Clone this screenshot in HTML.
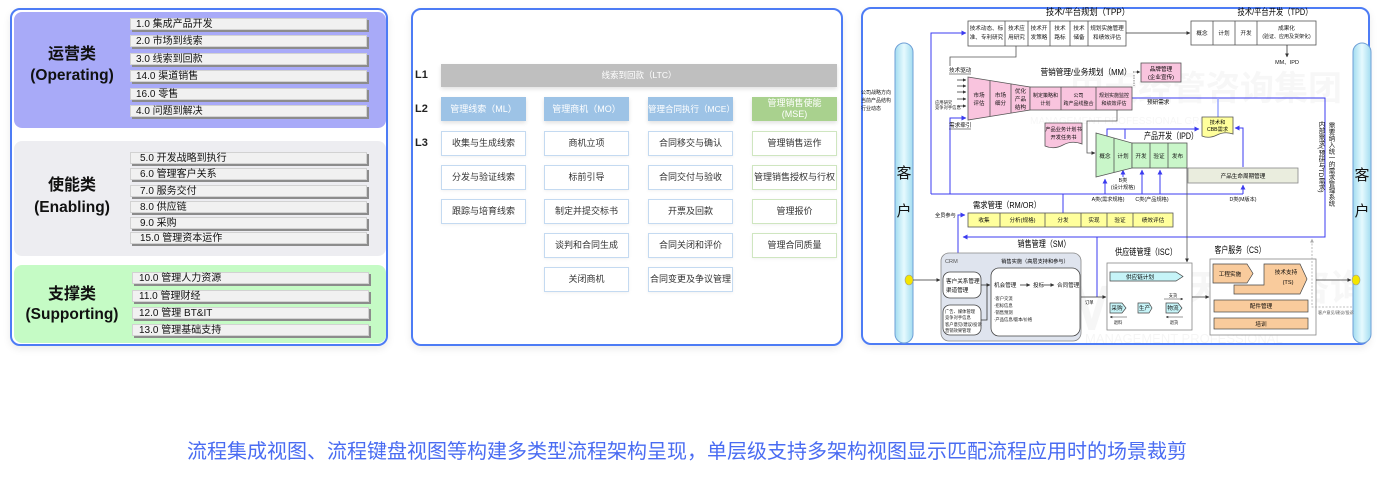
<!DOCTYPE html>
<html><head><meta charset="utf-8">
<style>
*{margin:0;padding:0;box-sizing:border-box}
body{width:1381px;height:489px;background:#fff;position:relative;overflow:hidden;font-family:"Liberation Sans","Noto Sans CJK SC",sans-serif;color:#111}
.abs{position:absolute}
.panel{position:absolute;border:2px solid #4d7cf5;border-radius:10px;background:#fff;box-shadow:0 3px 8px rgba(0,0,0,0.08)}
.sec{position:absolute;left:14px;width:372px;border-radius:8px}
.it{position:absolute;width:237px;height:12px;background:#f1f1f1;border:1px solid #d2d2d2;box-shadow:2px 2px 0 #8c8c8c;font-size:10px;line-height:11px;padding-left:5px;white-space:nowrap;color:#111}
.lab{position:absolute;left:14px;width:116px;text-align:center;font-weight:bold;white-space:nowrap}
.L{position:absolute;left:415px;font-size:11px;font-weight:bold;color:#222}
.l2{position:absolute;height:24px;width:85px;color:#fff;font-size:9px;text-align:center;line-height:24px;box-shadow:0 2px 4px rgba(0,0,0,0.12);white-space:nowrap}
.l3{position:absolute;height:25px;width:85px;background:#fff;font-size:9px;text-align:center;line-height:23px;color:#333;white-space:nowrap;box-shadow:0 1px 3px rgba(0,0,0,0.06)}
.b{border:1.5px solid #c4daf1}
.g{border:1.5px solid #cfe6c0}
.vt{position:absolute;writing-mode:vertical-rl;white-space:nowrap;color:#111}
</style></head><body>

<!-- LEFT PANEL -->
<div class="panel" style="left:10px;top:8px;width:378px;height:338px"></div>
<div class="sec" style="top:12px;height:116px;background:#a8aaf8"></div>
<div class="sec" style="top:141px;height:115px;background:#ededf1"></div>
<div class="sec" style="top:265px;height:78px;background:#c5fbc5"></div>

<div class="lab" style="top:45px;font-size:16px;line-height:20px">运营类</div>
<div class="lab" style="top:66px;font-size:15.5px;line-height:20px">(Operating)</div>
<div class="lab" style="top:176px;font-size:16px;line-height:20px">使能类</div>
<div class="lab" style="top:198px;font-size:15.5px;line-height:20px">(Enabling)</div>
<div class="lab" style="top:285px;font-size:16px;line-height:20px">支撑类</div>
<div class="lab" style="top:305px;font-size:15.5px;line-height:20px">(Supporting)</div>

<div class="it" style="left:130px;top:18px">1.0 集成产品开发</div>
<div class="it" style="left:130px;top:35px">2.0 市场到线索</div>
<div class="it" style="left:130px;top:53px">3.0 线索到回款</div>
<div class="it" style="left:130px;top:70px">14.0 渠道销售</div>
<div class="it" style="left:130px;top:88px">16.0 零售</div>
<div class="it" style="left:130px;top:105px">4.0 问题到解决</div>

<div class="it" style="left:130px;top:152px;padding-left:9px">5.0 开发战略到执行</div>
<div class="it" style="left:130px;top:168px;padding-left:9px">6.0 管理客户关系</div>
<div class="it" style="left:130px;top:185px;padding-left:9px">7.0 服务交付</div>
<div class="it" style="left:130px;top:201px;padding-left:9px">8.0 供应链</div>
<div class="it" style="left:130px;top:217px;padding-left:9px">9.0 采购</div>
<div class="it" style="left:130px;top:232px;padding-left:9px">15.0 管理资本运作</div>

<div class="it" style="left:132px;top:272px;padding-left:6px">10.0 管理人力资源</div>
<div class="it" style="left:132px;top:290px;padding-left:6px">11.0 管理财经</div>
<div class="it" style="left:132px;top:307px;padding-left:6px">12.0 管理 BT&amp;IT</div>
<div class="it" style="left:132px;top:324px;padding-left:6px">13.0 管理基础支持</div>

<!-- MIDDLE PANEL -->
<div class="panel" style="left:411px;top:8px;width:432px;height:338px"></div>
<div class="L" style="top:69px">L1</div>
<div class="L" style="top:103px">L2</div>
<div class="L" style="top:137px">L3</div>
<div class="abs" style="left:441px;top:64px;width:396px;height:23px;background:#bfbfbf;color:#fff;font-size:8.5px;line-height:23px;text-align:center;box-shadow:0 2px 4px rgba(0,0,0,0.12)">线索到回款（LTC）</div>

<div class="l2" style="left:441px;top:97px;background:#9dc3e6">管理线索（ML）</div>
<div class="l2" style="left:544px;top:97px;background:#9dc3e6">管理商机（MO）</div>
<div class="l2" style="left:648px;top:97px;background:#9dc3e6;font-size:8.5px">管理合同执行（MCE）</div>
<div class="l2" style="left:752px;top:97px;background:#a9d18e;line-height:11px;padding-top:1px">管理销售使能<br>(MSE)</div>

<div class="l3 b" style="left:441px;top:131px">收集与生成线索</div>
<div class="l3 b" style="left:441px;top:165px">分发与验证线索</div>
<div class="l3 b" style="left:441px;top:199px">跟踪与培育线索</div>

<div class="l3 b" style="left:544px;top:131px">商机立项</div>
<div class="l3 b" style="left:544px;top:165px">标前引导</div>
<div class="l3 b" style="left:544px;top:199px">制定并提交标书</div>
<div class="l3 b" style="left:544px;top:233px">谈判和合同生成</div>
<div class="l3 b" style="left:544px;top:267px">关闭商机</div>

<div class="l3 b" style="left:648px;top:131px">合同移交与确认</div>
<div class="l3 b" style="left:648px;top:165px">合同交付与验收</div>
<div class="l3 b" style="left:648px;top:199px">开票及回款</div>
<div class="l3 b" style="left:648px;top:233px">合同关闭和评价</div>
<div class="l3 b" style="left:648px;top:267px">合同变更及争议管理</div>

<div class="l3 g" style="left:752px;top:131px">管理销售运作</div>
<div class="l3 g" style="left:752px;top:165px">管理销售授权与行权</div>
<div class="l3 g" style="left:752px;top:199px">管理报价</div>
<div class="l3 g" style="left:752px;top:233px">管理合同质量</div>

<!-- RIGHT PANEL -->
<div class="panel" style="left:861px;top:7px;width:509px;height:338px"></div>
<svg class="abs" style="left:0;top:0" width="1381" height="489" font-family="'Liberation Sans','Noto Sans CJK SC',sans-serif">
<defs>
<marker id="ab" viewBox="0 0 6 6" refX="5.5" refY="3" markerWidth="5" markerHeight="5" orient="auto"><path d="M0,0L6,3L0,6z" fill="#3b3bf0"/></marker>
<marker id="ag" viewBox="0 0 6 6" refX="5.5" refY="3" markerWidth="5" markerHeight="5" orient="auto"><path d="M0,0L6,3L0,6z" fill="#333"/></marker>
<marker id="al" viewBox="0 0 6 6" refX="5.5" refY="3" markerWidth="5" markerHeight="5" orient="auto"><path d="M0,0L6,3L0,6z" fill="#aaa"/></marker>
<linearGradient id="pill" x1="0" x2="1" y1="0" y2="0"><stop offset="0" stop-color="#a2dcf0"/><stop offset="0.5" stop-color="#e6fafe"/><stop offset="1" stop-color="#a2dcf0"/></linearGradient>
<clipPath id="rp"><rect x="863" y="9" width="505" height="334" rx="9"/></clipPath>
</defs>

<!-- watermark -->
<g clip-path="url(#rp)">
<g fill="#000" opacity="0.03" font-weight="bold">
<text x="1065" y="330" font-size="64">MP</text>
<text x="1150" y="300" font-size="36">中天经管咨询</text>
<text x="1070" y="100" font-size="34">中天经管咨询集团</text>
</g>
<g fill="#000" opacity="0.035">
<text x="1085" y="343" font-size="13">MANAGEMENT PROFESSIONAL</text>
<text x="1030" y="124" font-size="10">MANAGEMENT PROFESSIONAL GROUP</text>
</g>
</g>

<!-- pillars -->
<rect x="895" y="43" width="18" height="300" rx="9" fill="url(#pill)" stroke="#6f9fd6" stroke-width="1"/>
<rect x="1353" y="43" width="18" height="300" rx="9" fill="url(#pill)" stroke="#6f9fd6" stroke-width="1"/>
<g font-size="15" text-anchor="middle" fill="#111">
<text x="904" y="178">客</text><text x="904" y="216">户</text>
<text x="1362" y="180">客</text><text x="1362" y="216">户</text>
</g>
<ellipse cx="909" cy="280" rx="4" ry="5" fill="#f4e600" stroke="#999" stroke-width="0.6"/>
<ellipse cx="1356" cy="280" rx="4" ry="5" fill="#f4e600" stroke="#999" stroke-width="0.6"/>

<g font-size="5" fill="#111">
<text x="861" y="94">公司战略方向</text>
<text x="861" y="102">当前产品结构</text>
<text x="861" y="110">行业动态</text>
<text x="935" y="104" font-size="4.3">应用研究</text>
<text x="935" y="109" font-size="4.3">竞争对手信息</text>
</g>

<!-- blue loops -->
<g fill="none" stroke="#3b3bf0" stroke-width="1">
<polyline points="931,194 931,33 966,33" marker-end="url(#ab)"/>
<polyline points="950,194 950,118 966,118" marker-end="url(#ab)"/>
<line x1="931" y1="194" x2="1243" y2="194"/>
<line x1="1105" y1="194" x2="1105" y2="179" marker-end="url(#ab)"/>
<line x1="1123" y1="177" x2="1123" y2="170" marker-end="url(#ab)"/>
<line x1="1142" y1="194" x2="1142" y2="170" marker-end="url(#ab)"/>
<line x1="1160" y1="194" x2="1160" y2="170" marker-end="url(#ab)"/>
<line x1="1243" y1="194" x2="1243" y2="185" marker-end="url(#ab)"/>
<line x1="1063" y1="194" x2="1063" y2="213"/>
<polyline points="1132,98 1325,98 1325,237 963,237" marker-end="url(#ab)"/>
<polyline points="958,253 958,215 965,215" marker-end="url(#ab)"/>
<line x1="1097" y1="237" x2="1097" y2="297"/>
<polyline points="1107,137 1107,129 1199,129" marker-end="url(#ab)"/>
<line x1="1125" y1="129" x2="1125" y2="139"/>
<polyline points="1243,167 1243,128 1235,128" marker-end="url(#ab)"/>
</g>
<line x1="1218" y1="98" x2="1218" y2="117" stroke="#9aa8ff" stroke-width="1.5"/>

<!-- TPP -->
<text x="1088" y="15" font-size="9" text-anchor="middle" textLength="84" lengthAdjust="spacingAndGlyphs">技术/平台规划（TPP）</text>
<rect x="968" y="21" width="158" height="25" fill="#fff" stroke="#555" stroke-width="0.8"/>
<g stroke="#555" stroke-width="0.8">
<line x1="1005" y1="21" x2="1005" y2="46"/><line x1="1028" y1="21" x2="1028" y2="46"/>
<line x1="1050" y1="21" x2="1050" y2="46"/><line x1="1070" y1="21" x2="1070" y2="46"/>
<line x1="1088" y1="21" x2="1088" y2="46"/>
</g>
<g font-size="5.6" text-anchor="middle" fill="#111">
<text x="986.5" y="30">技术动态、标</text><text x="986.5" y="39">准、专利研究</text>
<text x="1016.5" y="30">技术应</text><text x="1016.5" y="39">用研究</text>
<text x="1039" y="30">技术开</text><text x="1039" y="39">发策略</text>
<text x="1060" y="30">技术</text><text x="1060" y="39">路标</text>
<text x="1079" y="30">技术</text><text x="1079" y="39">储备</text>
<text x="1107" y="30">规划实施管理</text><text x="1107" y="39">和绩效评估</text>
</g>
<line x1="1126" y1="33" x2="1190" y2="33" stroke="#333" stroke-width="0.8" marker-end="url(#ag)"/>

<!-- TPD -->
<text x="1275" y="15" font-size="9" text-anchor="middle" textLength="75" lengthAdjust="spacingAndGlyphs">技术/平台开发（TPD）</text>
<rect x="1191" y="21" width="125" height="24" fill="#fff" stroke="#555" stroke-width="0.8"/>
<g stroke="#555" stroke-width="0.8">
<line x1="1213" y1="21" x2="1213" y2="45"/><line x1="1235" y1="21" x2="1235" y2="45"/><line x1="1257" y1="21" x2="1257" y2="45"/>
</g>
<g font-size="5.6" text-anchor="middle" fill="#111">
<text x="1202" y="35">概念</text><text x="1224" y="35">计划</text><text x="1246" y="35">开发</text>
<text x="1286.5" y="30">成果化</text><text x="1286.5" y="38" font-size="5">(验证、应用及货架化)</text>
<text x="1287" y="64" font-size="5.5">MM、IPD</text>
</g>
<line x1="1287" y1="45" x2="1287" y2="57" stroke="#333" stroke-width="0.8" marker-end="url(#ag)"/>

<!-- gray drive line -->
<polyline points="1016,46 1016,57 950,57 950,66" fill="none" stroke="#555" stroke-width="0.8"/>
<text x="949" y="72" font-size="5.6" fill="#111">技术驱动</text>
<line x1="949" y1="74" x2="971" y2="74" stroke="#111" stroke-width="0.5"/>
<text x="949" y="127" font-size="5.6" fill="#111">需求牵引</text>
<line x1="949" y1="129" x2="971" y2="129" stroke="#111" stroke-width="0.5"/>
<g stroke="#222" stroke-width="0.7">
<line x1="957" y1="80" x2="966" y2="80" marker-end="url(#ag)"/>
<line x1="957" y1="86" x2="966" y2="86" marker-end="url(#ag)"/>
<line x1="957" y1="92" x2="966" y2="92" marker-end="url(#ag)"/>
<line x1="957" y1="99" x2="966" y2="99" marker-end="url(#ag)"/>
<line x1="957" y1="106" x2="966" y2="106" marker-end="url(#ag)"/>
</g>

<!-- MM -->
<text x="1086" y="75" font-size="8.5" text-anchor="middle" textLength="91" lengthAdjust="spacingAndGlyphs">营销管理/业务规划（MM）</text>
<polygon points="968,77 1030,87 1030,110 968,120" fill="#f9c4de" stroke="#555" stroke-width="0.8"/>
<rect x="1030" y="87" width="102" height="23" fill="#f9c4de" stroke="#555" stroke-width="0.8"/>
<g stroke="#555" stroke-width="0.8">
<line x1="990" y1="80.5" x2="990" y2="116.5"/><line x1="1011" y1="84" x2="1011" y2="113"/>
<line x1="1061" y1="87" x2="1061" y2="110"/><line x1="1096" y1="87" x2="1096" y2="110"/>
</g>
<g font-size="5.6" text-anchor="middle" fill="#111">
<text x="979" y="97">市场</text><text x="979" y="105">评估</text>
<text x="1000.5" y="97">市场</text><text x="1000.5" y="105">细分</text>
<text x="1020.5" y="93">优化</text><text x="1020.5" y="101">产品</text><text x="1020.5" y="109">结构</text>
<text x="1045.5" y="97" font-size="5">制定策略和</text><text x="1045.5" y="105" font-size="5">计划</text>
<text x="1078.5" y="97" font-size="5">公司</text><text x="1078.5" y="105" font-size="5">跨产品线整合</text>
<text x="1114" y="97" font-size="5">规划实施监控</text><text x="1114" y="105" font-size="5">和绩效评估</text>
</g>
<rect x="1141" y="63" width="40" height="19" fill="#f9c4de" stroke="#555" stroke-width="0.8"/>
<text x="1161" y="71" font-size="5.6" text-anchor="middle">品牌管理</text>
<text x="1161" y="79" font-size="5.6" text-anchor="middle">(企业宣传)</text>
<line x1="1133" y1="72" x2="1140" y2="72" stroke="#333" stroke-width="0.7" stroke-dasharray="1.5,1" marker-end="url(#ag)"/>
<polyline points="1134,75 1134,86" fill="none" stroke="#555" stroke-width="0.7" stroke-dasharray="1.5,1"/>
<text x="1147" y="104" font-size="5.6">预研需求</text>

<!-- product plan doc -->
<path d="M1045,123 H1082 V144 Q1072,140 1063,145 Q1054,150 1045,146 Z" fill="#f9c4de" stroke="#555" stroke-width="0.8"/>
<text x="1063.5" y="131" font-size="5.2" text-anchor="middle">产品业务计划书</text>
<text x="1063.5" y="139" font-size="5.2" text-anchor="middle">开发任务书</text>
<polyline points="1117,110 1117,121 1087,121 1087,153 1095,153" fill="none" stroke="#555" stroke-width="0.8" marker-end="url(#ag)"/>

<!-- IPD -->
<text x="1171" y="139" font-size="9" text-anchor="middle" textLength="54" lengthAdjust="spacingAndGlyphs">产品开发（IPD）</text>
<polygon points="1096,133 1132,143 1132,168 1096,177" fill="#c9f6c9" stroke="#555" stroke-width="0.8"/>
<line x1="1114" y1="138" x2="1114" y2="172.5" stroke="#555" stroke-width="0.8"/>
<rect x="1132" y="143" width="55" height="25" fill="#c9f6c9" stroke="#555" stroke-width="0.8"/>
<line x1="1150" y1="143" x2="1150" y2="168" stroke="#555" stroke-width="0.8"/>
<line x1="1168" y1="143" x2="1168" y2="168" stroke="#555" stroke-width="0.8"/>
<g font-size="5.6" text-anchor="middle" fill="#111">
<text x="1105" y="158">概念</text><text x="1123" y="158">计划</text>
<text x="1141" y="158">开发</text><text x="1159" y="158">验证</text><text x="1177.5" y="158">发布</text>
</g>
<rect x="1188" y="168" width="110" height="15" fill="#eaedde" stroke="#888" stroke-width="0.8"/>
<text x="1243" y="178" font-size="5.6" text-anchor="middle">产品生命周期管理</text>
<line x1="1187" y1="168" x2="1187" y2="262" stroke="#555" stroke-width="0.8" marker-end="url(#ag)"/>
<g font-size="5.2" text-anchor="middle" fill="#111">
<text x="1123" y="182">B类</text><text x="1123" y="189">(设计规格)</text>
<text x="1108" y="201">A类(需求规格)</text>
<text x="1152" y="201">C类(产品规格)</text>
<text x="1243" y="201">D类(M版本)</text>
</g>

<!-- CBB doc -->
<path d="M1202,117 H1233 V134 Q1225,131 1217,135 Q1209,139 1202,136 Z" fill="#ffff9c" stroke="#555" stroke-width="0.8"/>
<text x="1217.5" y="124" font-size="5.2" text-anchor="middle">技术和</text>
<text x="1217.5" y="131" font-size="5.2" text-anchor="middle">CBB需求</text>

<!-- RM -->
<text x="1007" y="208" font-size="8.5" text-anchor="middle" textLength="68" lengthAdjust="spacingAndGlyphs">需求管理（RM/OR）</text>
<rect x="968" y="213" width="205" height="14" fill="#ffff9c" stroke="#555" stroke-width="0.8"/>
<g stroke="#555" stroke-width="0.8">
<line x1="1000" y1="213" x2="1000" y2="227"/><line x1="1045" y1="213" x2="1045" y2="227"/>
<line x1="1081" y1="213" x2="1081" y2="227"/><line x1="1107" y1="213" x2="1107" y2="227"/>
<line x1="1133" y1="213" x2="1133" y2="227"/>
</g>
<g font-size="5.6" text-anchor="middle" fill="#111">
<text x="984" y="222">收集</text><text x="1022.5" y="222">分析(规格)</text><text x="1063" y="222">分发</text>
<text x="1094" y="222">实现</text><text x="1120" y="222">验证</text><text x="1153" y="222">绩效评估</text>
</g>
<text x="935" y="217" font-size="5.2">全员参与</text>

<!-- SM -->
<text x="1044" y="247" font-size="9" text-anchor="middle" textLength="53" lengthAdjust="spacingAndGlyphs">销售管理（SM）</text>
<rect x="941" y="253" width="140" height="88" rx="8" fill="#dfe4ee" stroke="#888" stroke-width="0.8"/>
<text x="945" y="263" font-size="5.6" fill="#555">CRM</text>
<text x="1035" y="263" font-size="5.2" text-anchor="middle">销售实施（高层支持和参与）</text>
<rect x="943" y="272" width="38" height="26" rx="7" fill="#fff" stroke="#444" stroke-width="0.8"/>
<text x="946" y="283" font-size="5.6">客户关系管理</text>
<text x="946" y="292" font-size="5.6">渠道管理</text>
<rect x="943" y="305" width="38" height="30" rx="7" fill="#fff" stroke="#444" stroke-width="0.8"/>
<g font-size="4.3" fill="#111">
<text x="945" y="313">广告、媒体管理</text><text x="945" y="319">竞争对手信息</text>
<text x="945" y="326">客户意见/建议/投诉</text><text x="945" y="332">营销效果管理</text>
</g>
<polyline points="981,285 987,285" fill="none" stroke="#333" stroke-width="0.8"/>
<polyline points="981,320 987,320 987,285 990,285" fill="none" stroke="#333" stroke-width="0.8" marker-end="url(#ag)"/>
<rect x="991" y="268" width="89" height="68" rx="8" fill="#fff" stroke="#444" stroke-width="0.8"/>
<g font-size="5.6" fill="#111">
<text x="994" y="287">机会管理</text><text x="1033" y="287">投标</text><text x="1057" y="287">合同管理</text>
</g>
<line x1="1020" y1="285" x2="1030" y2="285" stroke="#333" stroke-width="0.8" marker-end="url(#ag)"/>
<line x1="1044" y1="285" x2="1054" y2="285" stroke="#333" stroke-width="0.8" marker-end="url(#ag)"/>
<g font-size="4.3" fill="#111">
<text x="994" y="300">·客户交流</text><text x="994" y="307">·招标信息</text>
<text x="994" y="314">·销售预测</text><text x="994" y="321">·产品信息/版本/价格</text>
</g>
<line x1="913" y1="280" x2="940" y2="280" stroke="#333" stroke-width="0.8" marker-end="url(#ag)"/>
<line x1="1081" y1="297" x2="1106" y2="297" stroke="#333" stroke-width="0.8" marker-end="url(#ag)"/>
<text x="1085" y="304" font-size="4.3">订单</text>

<!-- ISC -->
<text x="1146" y="255" font-size="9" text-anchor="middle" textLength="62" lengthAdjust="spacingAndGlyphs">供应链管理（ISC）</text>
<rect x="1107" y="263" width="85" height="67" fill="#fff" stroke="#888" stroke-width="0.8"/>
<polygon points="1110,272 1176,272 1183,276.5 1176,281 1110,281" fill="#c6f4f8" stroke="#444" stroke-width="0.7"/>
<text x="1140" y="279" font-size="5.6" text-anchor="middle">供应链计划</text>
<polygon points="1110,303 1122,303 1126,308 1122,313 1110,313" fill="#c6f4f8" stroke="#444" stroke-width="0.7"/>
<polygon points="1138,303 1149,303 1152,308 1149,313 1138,313" fill="#c6f4f8" stroke="#444" stroke-width="0.7"/>
<polygon points="1166,303 1178,303 1182,308 1178,313 1166,313" fill="#c6f4f8" stroke="#444" stroke-width="0.7"/>
<g font-size="5.6" text-anchor="middle" fill="#111">
<text x="1117" y="310">采购</text><text x="1144.5" y="310">生产</text><text x="1173" y="310">物流</text>
</g>
<g font-size="4.3" text-anchor="middle" fill="#111">
<text x="1173" y="297">支货</text><text x="1118" y="324">退料</text><text x="1174" y="324">退货</text>
</g>
<g stroke="#333" stroke-width="0.5">
<line x1="1164" y1="299" x2="1183" y2="299" marker-end="url(#ag)"/>
<line x1="1127" y1="317" x2="1110" y2="317" marker-end="url(#ag)"/>
<line x1="1183" y1="317" x2="1166" y2="317" marker-end="url(#ag)"/>
</g>
<line x1="1192" y1="297" x2="1209" y2="297" stroke="#333" stroke-width="0.8" marker-end="url(#ag)"/>

<!-- CS -->
<text x="1240" y="253" font-size="9" text-anchor="middle" textLength="51" lengthAdjust="spacingAndGlyphs">客户服务（CS）</text>
<rect x="1210" y="259" width="106" height="76" fill="#fff" stroke="#888" stroke-width="0.8"/>
<polygon points="1213,264 1247,264 1253,273.5 1247,283 1213,283" fill="#f9cb9c" stroke="#444" stroke-width="0.7"/>
<text x="1230" y="276" font-size="5.6" text-anchor="middle">工程实施</text>
<polygon points="1264,264 1300,264 1307,279 1300,294 1234,294 1234,285 1264,285" fill="#f9cb9c" stroke="#444" stroke-width="0.7"/>
<text x="1286" y="274" font-size="5.6" text-anchor="middle">技术支持</text>
<text x="1288" y="284" font-size="5.6" text-anchor="middle">(TS)</text>
<rect x="1214" y="300" width="94" height="12" fill="#f9cb9c" stroke="#444" stroke-width="0.7"/>
<text x="1261" y="308" font-size="5.6" text-anchor="middle">配件管理</text>
<rect x="1214" y="318" width="94" height="11" fill="#f9cb9c" stroke="#444" stroke-width="0.7"/>
<text x="1261" y="326" font-size="5.6" text-anchor="middle">培训</text>
<line x1="1316" y1="280" x2="1351" y2="280" stroke="#333" stroke-width="0.8" marker-end="url(#ag)"/>
<polyline points="1352,307 1312,307 1312,239" fill="none" stroke="#aaa" stroke-width="0.8" stroke-dasharray="2,1.5" marker-end="url(#al)"/>
<text x="1318" y="314" font-size="4.2" fill="#555">客户意见/建议/投诉</text>
</svg>
<div class="vt" style="left:1317px;top:121px;font-size:6.5px;line-height:7px">内部需求(预研与TD需求)</div>
<div class="vt" style="left:1327px;top:122px;font-size:6.5px;line-height:7px">需要纳入统一的需求管理系统</div>

<!-- CAPTION -->
<div class="abs" style="left:187px;top:441px;font-size:20px;line-height:22px;color:#4a6cf2;white-space:nowrap">流程集成视图、流程键盘视图等构建多类型流程架构呈现，单层级支持多架构视图显示匹配流程应用时的场景裁剪</div>
</body></html>
